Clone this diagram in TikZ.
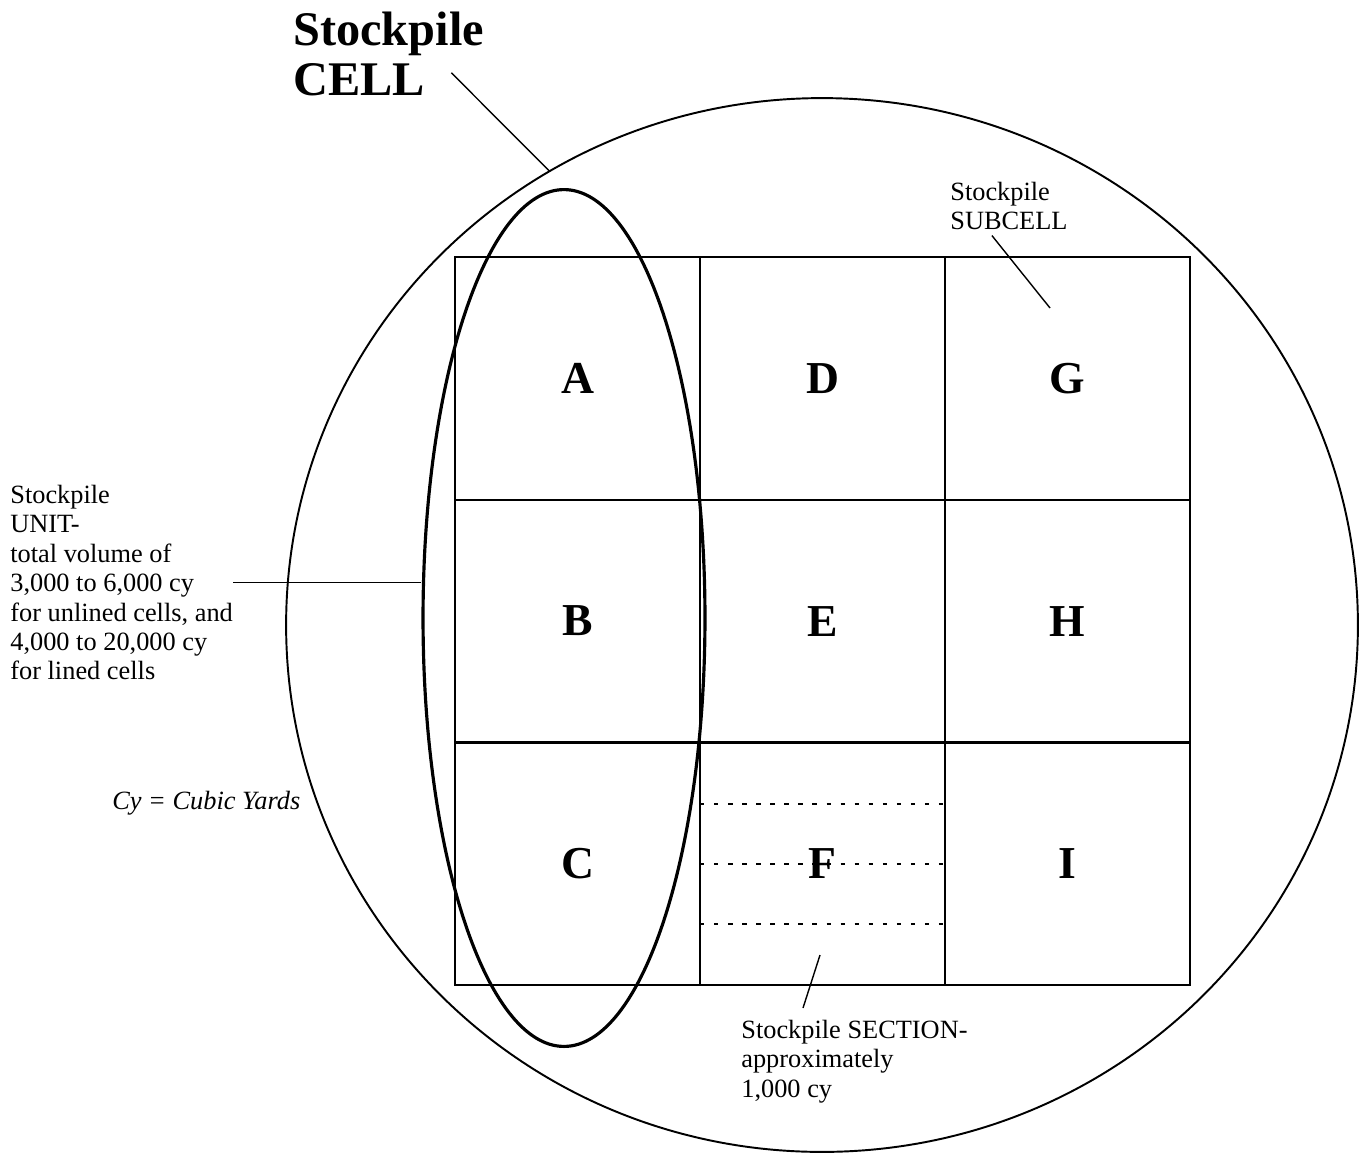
\documentclass[tikz,border=0pt]{standalone}
\usepackage{fontspec}
\setmainfont{Liberation Serif}
\usetikzlibrary{shapes.geometric}

\begin{document}
\begin{tikzpicture}[x=0.02cm, y=-0.02cm,
  subcell/.style={draw, line width=1.2pt, minimum width=4.9cm, minimum height=4.853cm,
    inner sep=0pt, outer sep=0pt, font=\fontsize{26}{26}\selectfont\bfseries},
  note/.style={align=left, inner sep=0pt, font=\fontsize{15}{16.7}\selectfont},
  leader/.style={line width=0.8pt},
  sectionline/.style={line width=1.2pt, dash pattern=on 2.5pt off 5.5pt}]
\useasboundingbox (0,0) rectangle (1361,1163);
% the cell
\node[draw, ellipse, line width=1.1pt, inner sep=0pt, minimum width=21.44cm, minimum height=21.08cm] (cell) at (822,625) {};
% subcells
\foreach \name/\col/\row in {A/0/0, B/0/1, C/0/2, D/1/0, E/1/1, F/1/2, G/2/0, H/2/1, I/2/2}
  \node[subcell] (\name) at (577.5+245*\col, 378.35+242.7*\row) {\name};
% sections in F
\foreach \d in {-1.2,0,1.2}
  \draw[sectionline] ([yshift=\d cm]F.west) -- ([yshift=\d cm]F.east);
% the unit
\node[draw, ellipse, line width=1.8pt, inner sep=0pt, minimum width=5.64cm, minimum height=17.14cm] (unit) at (564,618) {};

% labels
\node[anchor=north west, align=left, inner sep=0pt, font=\fontsize{27.5}{28.5}\selectfont\bfseries] (celltext) at (293,12) {Stockpile\\CELL};
\node[note, anchor=north west] (subtext) at (950,182) {Stockpile\\SUBCELL};
\node[note, anchor=north west] (unittext) at (10,485) {Stockpile\\UNIT-\\total volume of\\3,000 to 6,000 cy\\for unlined cells, and\\4,000 to 20,000 cy\\for lined cells};
\node[note, anchor=west] (cytext) at (112,803) {\itshape Cy = Cubic Yards};
\node[note, anchor=north west] (sectext) at (741,1020) {Stockpile SECTION-\\approximately\\1,000 cy};

% leaders
\coordinate (subpt) at (1050,308);
\coordinate (secpt) at (820,955);
\draw[leader] ([xshift=-0.66cm,yshift=0.48cm]celltext.south east) -- (cell.121);
\draw[leader] ([xshift=-0.34cm,yshift=-0.1cm]subtext.south) -- (subpt);
\draw[leader] (unittext.east) -- (unittext.east -| unit.west);
\draw[leader] (secpt) -- ([xshift=1.24cm,yshift=0.24cm]sectext.north west);
\end{tikzpicture}
\end{document}
